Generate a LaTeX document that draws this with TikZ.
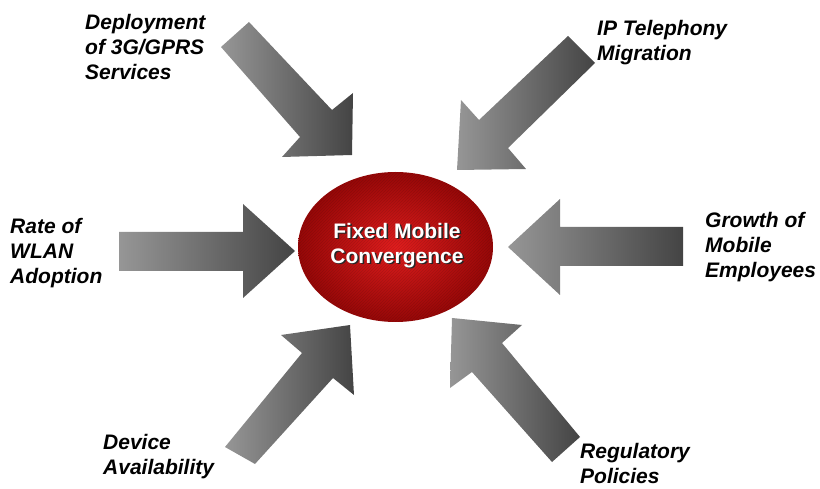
\documentclass[tikz,border=0pt]{standalone}
\usepackage{fontspec}
\setmainfont{Liberation Sans}
\usetikzlibrary{patterns}
\definecolor{arrowL}{RGB}{150,150,150}
\definecolor{arrowR}{RGB}{68,68,68}
\definecolor{redIn}{RGB}{225,30,30}
\definecolor{redOut}{RGB}{150,8,8}
\tikzset{
  blockarrow/.style={left color=arrowL, right color=arrowR, draw=none},
  lbl/.style={align=left, inner sep=0pt, anchor=north west,
    font=\fontsize{21}{25}\selectfont\bfseries\itshape, text=black},
  core/.style={align=center, inner sep=0pt, anchor=north,
    font=\fontsize{21}{25}\selectfont\bfseries}
}
\begin{document}
\begin{tikzpicture}[x=1pt,y=-1pt]
\useasboundingbox (0,0) rectangle (820,489);
% block arrows
\shade[blockarrow] (249,22) -- (332,110) -- (353,93) -- (352,155) -- (282,157) -- (300,137) -- (221,47) -- cycle;
\shade[blockarrow] (568,36) -- (479,120) -- (461,100) -- (457,170) -- (526,169) -- (508,148) -- (595,63) -- cycle;
\shade[blockarrow] (119,232) -- (243,232) -- (243,204) -- (295,251) -- (243,298) -- (243,271) -- (119,271) -- cycle;
\shade[blockarrow] (683,227) -- (560,227) -- (560,199) -- (508,247) -- (560,295) -- (560,266) -- (683,266) -- cycle;
\shade[blockarrow] (255,464) -- (333,378) -- (354,395) -- (350,325) -- (281,335) -- (302,353) -- (225,447) -- cycle;
\shade[blockarrow] (580,437) -- (502,343) -- (522,325) -- (452,318) -- (450,388) -- (472,372) -- (552,462) -- cycle;
% central ellipse
\shade[inner color=redIn, outer color=redOut] (395.5,247) ellipse [x radius=97.5, y radius=75];
\fill[pattern=north east lines, pattern color=black, opacity=0.12] (395.5,247) ellipse [x radius=97.5, y radius=75];
\node[core, text=black!85] (fmcshadow) at (398.5,224.2) {Fixed Mobile\\Convergence};
\node[core, text=white] (fmc) at (397,222.7) {Fixed Mobile\\Convergence};
% labels
\node[lbl] (deploy) at (85,14.5) {Deployment\\of 3G/GPRS\\Services};
\node[lbl] (ip) at (597,20) {IP Telephony\\Migration};
\node[lbl] (rate) at (10,218) {Rate of\\WLAN\\Adoption};
\node[lbl] (growth) at (705,212) {Growth of\\Mobile\\Employees};
\node[lbl] (device) at (103,434) {Device\\Availability};
\node[lbl] (reg) at (580,443.5) {Regulatory\\Policies};
\end{tikzpicture}
\end{document}
